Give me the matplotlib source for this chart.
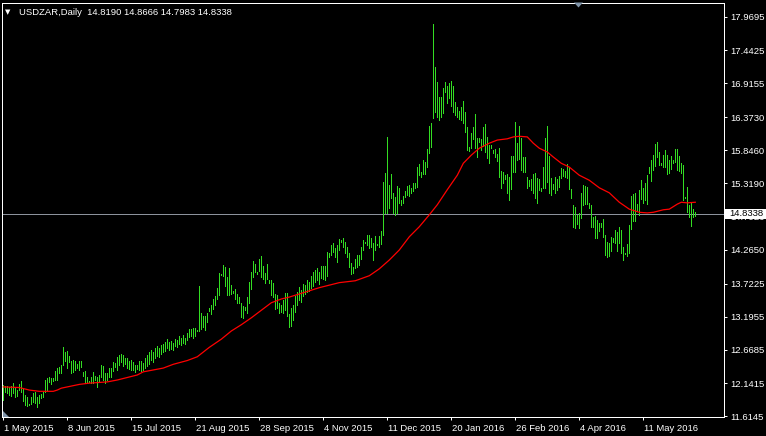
import matplotlib
matplotlib.use('Agg')
import matplotlib.pyplot as plt
import matplotlib.transforms as mtransforms
from matplotlib.patches import Rectangle, Polygon
import numpy as np

# USDZAR daily bars, 1 May 2015 .. end of May 2016
highs = [
    # May - Jul 2015
    12.11, 12.09, 12.09, 12.08, 12.09, 12.14, 12.08, 12.03, 12.13, 12.17,
    12.06, 11.95, 11.92, 11.81, 11.92, 11.98, 12.00, 11.92, 11.95, 11.97,
    12.00, 12.19, 12.22, 12.24, 12.22, 12.22, 12.33, 12.38, 12.40, 12.43,
    12.72, 12.64, 12.65, 12.57, 12.49, 12.51, 12.49, 12.45, 12.49, 12.49,
    12.32, 12.33, 12.24, 12.17, 12.24, 12.32, 12.25, 12.24, 12.27, 12.43,
    12.41, 12.30, 12.30, 12.38, 12.38, 12.48, 12.46, 12.56, 12.59, 12.60,
    12.59, 12.54, 12.54, 12.49, 12.51, 12.48, 12.43, 12.43, 12.49, 12.49,
    12.46,
    12.54, 12.59, 12.64, 12.67, 12.64, 12.70, 12.73, 12.70, 12.75, 12.76, 12.80,
    # Aug - Sep 2015
    12.84, 12.80, 12.81, 12.78, 12.84, 12.83, 12.89, 12.86, 12.91, 12.86,
    12.94, 13.00, 13.00, 13.02, 13.02, 12.99, 13.69, 13.26, 13.21, 13.21,
    13.26, 13.34, 13.38, 13.48, 13.53, 13.65, 13.89, 13.88, 14.02, 13.99,
    13.83, 13.97, 13.70, 13.61, 13.64, 13.56, 13.51, 13.42, 13.37, 13.35,
    13.51, 13.75, 13.91, 14.08, 14.04, 13.91, 14.12, 14.16, 14.00, 13.89,
    14.04, 13.78, 13.78, 13.73, 13.56, 13.54, 13.42, 13.38, 13.46, 13.58,
    13.58, 13.24,
    # Oct - Nov 2015
    13.34, 13.38, 13.53, 13.59, 13.67, 13.62, 13.72, 13.70, 13.78, 13.75,
    13.85, 13.91, 13.94, 13.97, 13.91, 14.00,
    14.00, 14.00, 14.23, 14.21, 14.34, 14.37, 14.29, 14.34, 14.43, 14.42,
    14.45, 14.39, 14.31, 14.21, 14.05, 13.99, 14.12, 14.18, 14.18, 14.31,
    14.42, 14.39, 14.50, 14.50, 14.45, 14.37, 14.48, 14.36, 14.48, 14.56,
    # Dec 2015 - Apr 2016
    15.34, 15.49, 16.06, 15.29, 15.47, 15.17, 15.10, 15.28, 15.25, 15.06,
    15.12, 15.20, 15.28, 15.29, 15.25, 15.33, 15.33, 15.58, 15.63, 15.50,
    15.69, 15.66, 15.87, 16.23, 16.28, 17.86, 17.17, 16.93, 16.70, 16.70,
    16.84, 16.93, 16.87, 16.92, 16.95, 16.87, 16.62, 16.54, 16.47, 16.54,
    16.63, 16.46, 16.22, 15.90, 16.12, 16.22, 16.42, 16.04, 16.04, 16.03,
    16.22, 16.27, 16.06, 15.93, 15.93, 15.85, 15.87, 15.79, 15.88, 15.52,
    15.50, 15.45, 15.47, 15.42, 15.76, 15.76, 16.30, 15.96, 16.23, 16.04,
    15.74, 15.74, 15.42, 15.37, 15.39, 15.47, 15.49, 15.41, 15.39, 15.25,
    15.58, 16.04, 16.23, 15.76, 15.41, 15.31, 15.42, 15.39, 15.44, 15.57,
    15.55, 15.52, 15.63, 15.58, 15.23, 14.98, 14.94,
    14.82, 14.85,
    # Apr - May 2016
    15.17, 15.29, 15.28, 15.26, 15.01, 14.98, 14.79, 14.80, 14.74, 14.69,
    14.69, 14.75, 14.50, 14.39, 14.37, 14.47, 14.45, 14.58, 14.55, 14.63,
    14.58, 14.31, 14.21, 14.36, 14.66, 15.12, 15.15, 15.17, 14.99, 15.22,
    15.37, 15.25, 15.33, 15.45, 15.58, 15.69, 15.77, 15.95, 15.98, 15.82,
    15.65, 15.77, 15.85, 15.77, 15.69, 15.76, 15.69, 15.87, 15.87, 15.76,
    15.65, 15.61, 15.10, 15.26, 14.98, 15.01, 14.91, 14.8666,
]
lows = [
    11.87, 12.00, 11.98, 11.95, 11.94, 11.98, 11.92, 11.94, 12.03, 12.00,
    11.86, 11.79, 11.78, 11.79, 11.81, 11.84, 11.82, 11.76, 11.82, 11.90,
    11.92, 12.00, 12.03, 12.16, 12.13, 12.17, 12.19, 12.19, 12.30, 12.30,
    12.43, 12.49, 12.38, 12.48, 12.30, 12.32, 12.35, 12.38, 12.35, 12.40,
    12.25, 12.14, 12.16, 12.16, 12.14, 12.14, 12.19, 12.08, 12.16, 12.24,
    12.19, 12.14, 12.19, 12.24, 12.24, 12.33, 12.40, 12.35, 12.43, 12.48,
    12.41, 12.45, 12.38, 12.37, 12.35, 12.35, 12.32, 12.37, 12.35, 12.33,
    12.35,
    12.38, 12.41, 12.45, 12.51, 12.48, 12.54, 12.57, 12.56, 12.60, 12.64, 12.65,
    12.70, 12.67, 12.68, 12.67, 12.73, 12.72, 12.76, 12.75, 12.78, 12.76,
    12.83, 12.87, 12.89, 12.86, 12.89, 12.97, 12.97, 13.00, 13.03, 12.99,
    13.11, 13.29, 13.24, 13.32, 13.38, 13.48, 13.54, 13.86, 13.85, 13.69,
    13.54, 13.54, 13.56, 13.58, 13.48, 13.42, 13.42, 13.19, 13.18, 13.30,
    13.26, 13.42, 13.64, 13.83, 13.91, 13.88, 13.93, 13.83, 13.80, 13.73,
    13.80, 13.73, 13.54, 13.51, 13.32, 13.34, 13.26, 13.27, 13.26, 13.30,
    13.21, 13.03,
    13.05, 13.15, 13.27, 13.38, 13.46, 13.43, 13.53, 13.56, 13.59, 13.61,
    13.66, 13.69, 13.75, 13.78, 13.72, 13.81,
    13.80, 13.78, 13.85, 14.15, 14.18, 14.23, 14.15, 14.07, 14.26, 14.39,
    14.31, 14.21, 14.15, 13.99, 13.88, 13.90, 13.97, 13.99, 14.02, 14.12,
    14.26, 14.37, 14.34, 14.29, 14.31, 14.10, 14.26, 14.34, 14.31, 14.36,
    14.50, 14.85, 14.85, 14.93, 15.09, 14.85, 14.82, 14.85, 15.01, 14.98,
    15.01, 15.10, 15.14, 15.12, 15.17, 15.20, 15.25, 15.26, 15.45, 15.42,
    15.47, 15.47, 15.58, 15.80, 15.90, 16.36, 16.46, 16.38, 16.33, 16.38,
    16.44, 16.78, 16.60, 16.68, 16.55, 16.46, 16.41, 16.38, 16.35, 16.33,
    16.28, 16.14, 15.85, 15.84, 15.88, 16.03, 15.88, 15.74, 15.98, 15.85,
    15.92, 15.82, 15.72, 15.65, 15.88, 15.80, 15.74, 15.68, 15.42, 15.25,
    15.33, 15.39, 15.17, 15.06, 15.23, 15.50, 15.50, 15.69, 15.71, 15.53,
    15.50, 15.50, 15.25, 15.28, 15.22, 15.17, 15.09, 15.01, 15.22, 15.20,
    15.25, 15.25, 15.34, 15.17, 15.14, 15.23, 15.17, 15.22, 15.26, 15.41,
    15.44, 15.42, 15.41, 15.23, 15.09, 14.63, 14.61,
    14.67, 14.61,
    14.77, 14.98, 14.99, 14.99, 14.93, 14.63, 14.63, 14.45, 14.45, 14.56,
    14.63, 14.47, 14.18, 14.15, 14.16, 14.24, 14.39, 14.37, 14.24, 14.37,
    14.21, 14.10, 14.20, 14.16, 14.21, 14.59, 14.72, 14.72, 14.90, 14.82,
    15.07, 15.01, 15.06, 14.99, 15.49, 15.36, 15.53, 15.60, 15.74, 15.61,
    15.61, 15.58, 15.58, 15.47, 15.49, 15.55, 15.65, 15.66, 15.53, 15.52,
    15.49, 15.06, 15.09, 14.87, 14.79, 14.64, 14.79, 14.7983,
]

# moving average (red line), read at a subset of bars
ma_bar = [0, 8, 13, 18, 25, 27, 29, 32, 38, 43, 52, 57, 62, 67, 70, 75, 80, 85,
          92, 97, 103, 109, 114, 119, 124, 129, 134, 139, 143, 148, 158, 168,
          176, 183, 188, 193, 198, 203, 208, 213, 217, 222, 227, 230, 234, 238,
          243, 247, 252, 255, 258, 262, 265, 268, 272, 275, 279, 283, 288, 293,
          298, 303, 308, 313, 318, 322, 325, 330, 333, 337, 339, 342, 346]
ma_val = [12.08, 12.07, 12.03, 12.01, 12.01, 12.03, 12.06, 12.08, 12.12, 12.14,
          12.16, 12.19, 12.23, 12.27, 12.32, 12.35, 12.38, 12.44, 12.50, 12.56,
          12.71, 12.84, 12.97, 13.07, 13.18, 13.30, 13.42, 13.48, 13.51, 13.56,
          13.66, 13.74, 13.77, 13.85, 13.96, 14.10, 14.26, 14.47, 14.63, 14.82,
          14.98, 15.22, 15.45, 15.64, 15.77, 15.88, 15.96, 16.01, 16.03, 16.06,
          16.07, 16.06, 15.96, 15.88, 15.82, 15.74, 15.64, 15.58, 15.45, 15.37,
          15.25, 15.17, 15.02, 14.91, 14.86, 14.85, 14.86, 14.90, 14.91, 14.99,
          15.02, 15.01, 15.02]

last_ohlc = [14.8190, 14.8666, 14.7983, 14.8338]
bid = 14.8338

price_ticks = [17.9695, 17.4425, 16.9155, 16.3730, 15.8460, 15.3190, 14.7920,
               14.2650, 13.7225, 13.1955, 12.6685, 12.1415, 11.6145]
date_bars = [0, 32, 64, 96, 128, 160, 192, 224, 256, 288, 320]
date_labels = ['1 May 2015', '8 Jun 2015', '15 Jul 2015', '21 Aug 2015',
               '28 Sep 2015', '4 Nov 2015', '11 Dec 2015', '20 Jan 2016',
               '26 Feb 2016', '4 Apr 2016', '11 May 2016']

assert len(highs) == len(lows)
assert len(ma_bar) == len(ma_val)

BAR_COLOR = '#33dd22'
MA_COLOR = '#ff0000'
BID_COLOR = '#8c929c'
MARK_COLOR = '#8094a8'
PX = 0.72  # one pixel in points at dpi 100

plt.rcParams['font.family'] = ['Liberation Sans', 'DejaVu Sans']

W, H = 766, 436
fig = plt.figure(figsize=(W / 100, H / 100), dpi=100, facecolor='black')
ax = fig.add_axes([2 / W, 19 / H, 722 / W, 414 / H], facecolor='black')

bars = np.arange(len(highs))
ax.vlines(bars, lows, highs, colors=BAR_COLOR, linewidth=PX, antialiased=False, zorder=3)
ax.plot(ma_bar, ma_val, color=MA_COLOR, linewidth=0.9, zorder=4)
ax.axhline(bid, color=BID_COLOR, linewidth=PX, zorder=2)

# 2 px per bar, first bar 1.3 px inside the frame
ax.set_xlim(-0.65, -0.65 + 722 / 2)
ax.set_ylim(11.601, 18.192)

for s in ax.spines.values():
    s.set_color('white')
    s.set_linewidth(PX)

ax.yaxis.tick_right()
ax.set_yticks(price_ticks)
ax.set_yticklabels(['%.4f' % p for p in price_ticks])
ax.tick_params(axis='y', colors='white', length=2.2, width=PX, pad=2, labelsize=6.8)

ax.set_xticks(date_bars)
ax.set_xticklabels(date_labels, ha='left')
ax.tick_params(axis='x', colors='white', length=2.2, width=PX, pad=2.5, labelsize=6.8)
for lab in ax.get_xticklabels():
    lab.set_transform(lab.get_transform() + mtransforms.ScaledTranslation(1 / 100, 0, fig.dpi_scale_trans))

# bid price box on the right scale (hides the 14.7920 label behind it)
trans = mtransforms.blended_transform_factory(fig.transFigure, ax.transData)
ax.add_patch(Rectangle((725 / W, bid - 0.085), 41 / W, 0.17, transform=trans,
                       facecolor='white', edgecolor='none', clip_on=False, zorder=10))
ax.text(729 / W, bid, '%.4f' % bid, transform=trans, color='black', fontsize=6.8,
        va='center', ha='left', zorder=11, clip_on=False)

# chart shift marker on top, scroll marker bottom left (figure pixels)
px_trans = mtransforms.Affine2D().scale(1 / 100) + fig.dpi_scale_trans
ax.add_patch(Polygon([(574, 433.5), (583, 433.5), (578.5, 428.5)], closed=True,
                     transform=px_trans, facecolor=MARK_COLOR, edgecolor='none',
                     clip_on=False, zorder=6))
ax.add_patch(Polygon([(3, 19), (3, 25), (9, 19)], closed=True,
                     transform=px_trans, facecolor=MARK_COLOR, edgecolor='none',
                     clip_on=False, zorder=6))

# header
fig.text(5 / W, 1 - 12.5 / H, '\u25bc', color='white', fontsize=5, va='center',
         family='DejaVu Sans')
fig.text(19 / W, 1 - 12.5 / H,
         'USDZAR,Daily  ' + ' '.join('%.4f' % v for v in last_ohlc),
         color='white', fontsize=6.8, va='center')

fig.savefig('out.png', dpi=100, facecolor='black')
